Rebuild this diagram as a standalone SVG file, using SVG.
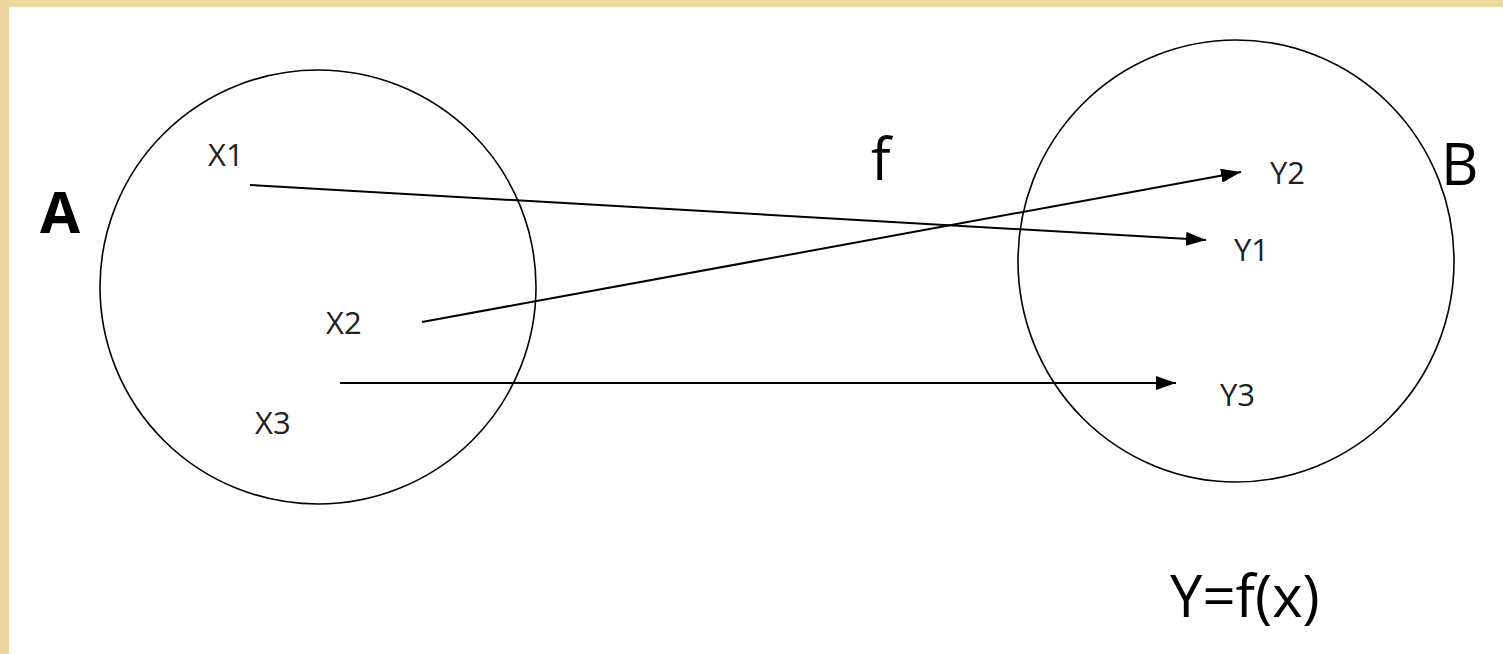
<svg xmlns="http://www.w3.org/2000/svg" width="1503" height="654" viewBox="0 0 1503 654">
<defs>
<marker id="arr" viewBox="0 0 20 14" refX="20" refY="7" markerWidth="20" markerHeight="14" markerUnits="userSpaceOnUse" orient="auto"><path d="M0,0 L20,7 L0,14 z" fill="#000"/></marker>
<style>
.set{fill:none;stroke:#000;stroke-width:1.6}
.lbl{font-family:"Open Sans","Liberation Sans",sans-serif;font-size:31px;fill:#222}
.big{font-family:"Open Sans","Liberation Sans",sans-serif;font-size:58px;fill:#000}
.edge{stroke:#000;stroke-width:2;fill:none;marker-end:url(#arr)}
</style>
</defs>
<rect x="0" y="0" width="1503" height="654" fill="#fff"/>
<rect x="0" y="0" width="1503" height="7" fill="#eed79e"/>
<rect x="0" y="0" width="9" height="654" fill="#eed79e"/>
<g id="setA">
<ellipse class="set" cx="318" cy="287" rx="218" ry="217"/>
<text x="40" y="233" class="big" font-weight="bold" font-size="60">A</text>
<text x="208" y="166" class="lbl">X1</text>
<text x="326" y="334" class="lbl">X2</text>
<text x="255" y="434" class="lbl">X3</text>
</g>
<g id="setB">
<ellipse class="set" cx="1236" cy="261" rx="218" ry="221"/>
<text x="1441" y="185" class="big" font-size="62">B</text>
<text x="1270" y="184" class="lbl">Y2</text>
<text x="1234" y="261" class="lbl">Y1</text>
<text x="1220" y="406" class="lbl">Y3</text>
</g>
<g id="labels">
<text x="871" y="180" class="big">f</text>
<text x="1170" y="617" class="big" font-size="54">Y=f(x)</text>
</g>
<g id="connectors">
<line class="edge" x1="250" y1="185" x2="1206" y2="240"/>
<line class="edge" x1="422" y1="322" x2="1241" y2="172"/>
<line class="edge" x1="340" y1="383" x2="1176" y2="383"/>
</g>
</svg>
